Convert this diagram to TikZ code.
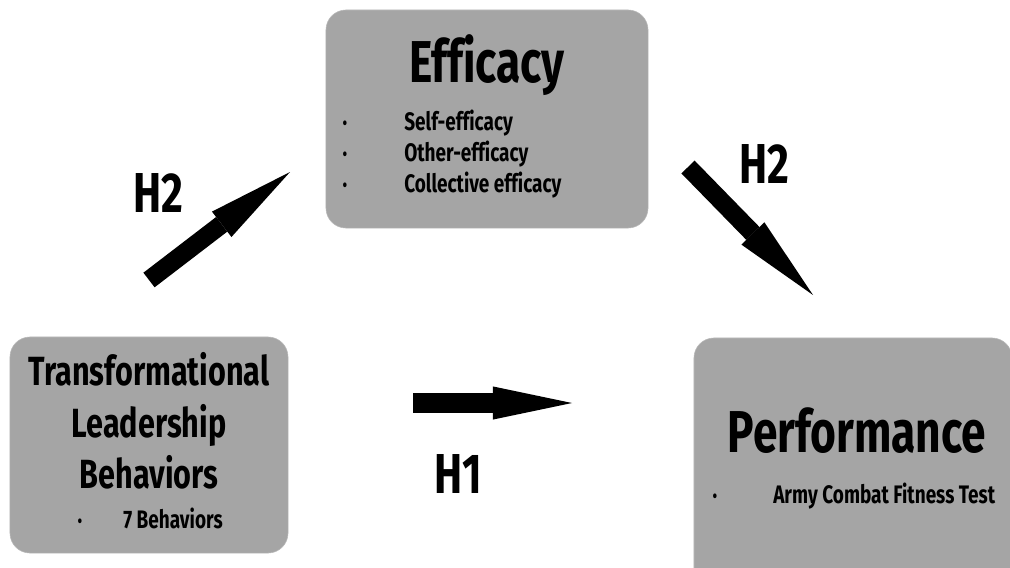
\documentclass[tikz,border=0pt]{standalone}
\usepackage{fontspec}
\setmainfont{Fira Sans}[FakeStretch=0.75, Ligatures=CommonOff]
\usepackage{tikz}
\usetikzlibrary{arrows.meta,positioning}
\definecolor{boxgray}{HTML}{A5A5A5}
\tikzset{
  box/.style={fill=boxgray, draw=gray!55, line width=0.4pt, rounded corners=0.5cm, inner sep=0pt},
  title/.style={font=\bfseries\fontsize{42}{50}\selectfont, anchor=base, inner sep=0pt},
  subtitle/.style={font=\bfseries\fontsize{29}{35}\selectfont, anchor=base, inner sep=0pt},
  item/.style={font=\bfseries\fontsize{18}{21}\selectfont, anchor=base west, inner sep=0pt},
  dot/.style={font=\fontsize{15}{18}\selectfont, anchor=base, inner sep=0pt},
  hyp/.style={font=\bfseries\fontsize{40}{48}\selectfont, anchor=base, inner sep=0pt},
  bigarrow/.style={line width=0.46cm, -{Triangle[length=2.15cm, width=0.8cm, line width=0pt]}}
}

\begin{document}
\begin{tikzpicture}[x=0.025cm, y=-0.025cm]
  \useasboundingbox (0,0) rectangle (1010,567);
  \clip (0,0) rectangle (1010,567);

  % boxes
  \node[box, minimum width=8.05cm, minimum height=5.45cm] (efficacy) at (487,119) {};
  \node[box, minimum width=6.95cm, minimum height=5.4cm] (leader) at (149,445) {};
  \node[box, minimum width=7.95cm, minimum height=6.3cm] (perf) at (853,464) {};

  % efficacy
  \node[title] (efftitle) at (487,82) {Efficacy};
  \node[dot] (d1) at (345,130) {•};
  \node[item] (self) at (404,130) {Self-efficacy};
  \node[dot] (d2) at (345,161) {•};
  \node[item] (other) at (404,161) {Other-efficacy};
  \node[dot] (d3) at (345,192) {•};
  \node[item] (coll) at (404,192) {Collective efficacy};

  % leadership
  \node[subtitle] (tl1) at (149,385) {Transformational};
  \node[subtitle] (tl2) at (149,437) {Leadership};
  \node[subtitle] (tl3) at (149,488) {Behaviors};
  \node[dot] (d4) at (80,528) {•};
  \node[item] (seven) at (123,528) {7 Behaviors};

  % performance
  \node[title] (perftitle) at (857,452) {Performance};
  \node[dot] (d5) at (715,503) {•};
  \node[item] (acft) at (773,503) {Army Combat Fitness Test};

  % arrows
  \coordinate (a1s) at (149,280);
  \coordinate (a1e) at (290,172);
  \coordinate (a2s) at (688,167);
  \coordinate (a2e) at (813,295);
  \coordinate (a3s) at (413,403);
  \coordinate (a3e) at (572,403);
  \draw[bigarrow] (a1s) -- (a1e);
  \draw[bigarrow] (a2s) -- (a2e);
  \draw[bigarrow, line width=0.5cm, -{Triangle[length=1.98cm, width=0.83cm, line width=0pt]}] (a3s) -- (a3e);

  \node[hyp] (h2a) at (158,212) {H2};
  \node[hyp] (h2b) at (764,183) {H2};
  \node[hyp] (h1) at (458,493) {H1};
\end{tikzpicture}
\end{document}
